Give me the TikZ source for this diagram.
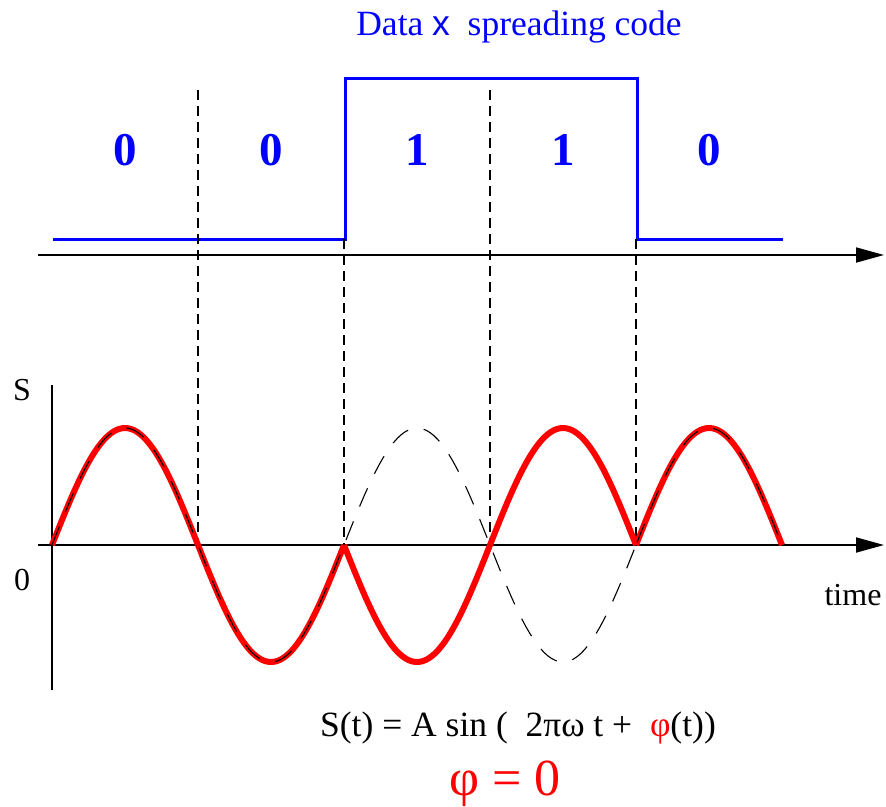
\documentclass[tikz,border=0pt]{standalone}
\usepackage{fontspec}
\setmainfont{Liberation Serif}
\setsansfont{Liberation Sans}
\usetikzlibrary{arrows.meta}

\tikzset{
    axisline/.style={line width=1.8pt, -{Triangle[length=28pt,width=15pt]}},
    guide/.style={line width=1.1pt, dash pattern=on 10pt off 6pt},
    carrier/.style={line width=1.1pt, dash pattern=on 20pt off 16pt},
    signal/.style={blue, line width=3pt},
    bit/.style={blue, font=\fontsize{47}{50}\selectfont\bfseries, anchor=base},
    label/.style={font=\fontsize{32}{36}\selectfont, anchor=base},
    biglabel/.style={font=\fontsize{35.5}{40}\selectfont, anchor=base},
}

\begin{document}
\begin{tikzpicture}[x=1pt, y=-1pt]
        \useasboundingbox (0,0) rectangle (886,806);
        % Title
        \node[biglabel, blue] (title) at (519, 35) {Data {\sffamily x} \ spreading code};
        % Data bits
        \foreach \b [count=\i] in {0,0,1,1,0} \node[bit] (bit\i) at ({52+146*\i-73}, 165) {\b};
        % Spread signal
        \draw[signal] (53,239) -- (345,239) -- (345,78) -- (637,78) -- (637,239) -- (783,239);
        % Time axes
        \coordinate (topstart) at (38,255);
        \coordinate (topend) at (884,255);
        \coordinate (botstart) at (38,545);
        \coordinate (botend) at (884,545);
        \coordinate (ybot) at (52,690);
        \coordinate (ytop) at (52,385);
        \draw[axisline] (topstart) -- (topend);
        \draw[axisline] (botstart) -- (botend);
        \draw[line width=1.5pt] (ybot) -- (ytop);
        % Bit boundaries
        \foreach \i/\y in {1/90,2/239,3/90,4/239} {
            \coordinate (gtop\i) at ({52+146*\i}, \y);
            \coordinate (gbot\i) at ({52+146*\i}, 545);
            \draw[guide] (gtop\i) -- (gbot\i);
        }
        % Carrier
        \draw[carrier, domain=52:783, samples=200]
            plot (\x, {545-117*sin((\x-52)/146*180)});
        % Modulated signal
        \foreach \k/\s in {0/1,1/1,2/-1,3/-1,4/1}
            \draw[red, line width=6pt, line join=round, domain={52+146*\k}:{52+146*(\k+1)}, samples=60]
                plot (\x, {545-\s*117*sin((\x-52)/146*180)});
        \draw[carrier, domain=52:345, samples=100]
            plot (\x, {545-117*sin((\x-52)/146*180)});
        \draw[carrier, domain=637:783, samples=60]
            plot (\x, {545-117*sin((\x-52)/146*180)});
        % Labels
        \node[label] (slabel) at (22, 400) {S};
        \node[label] (zero) at (22, 590) {0};
        \node[label] (time) at (853, 605) {time};
        \node[biglabel] (formula) at (518, 736) {S(t) = A sin ( \ 2πω t + \ {\color{red}φ}(t))};
        \node[label, red, font=\fontsize{52}{56}\selectfont] (phase) at (505, 795) {φ = 0};
\end{tikzpicture}
\end{document}
